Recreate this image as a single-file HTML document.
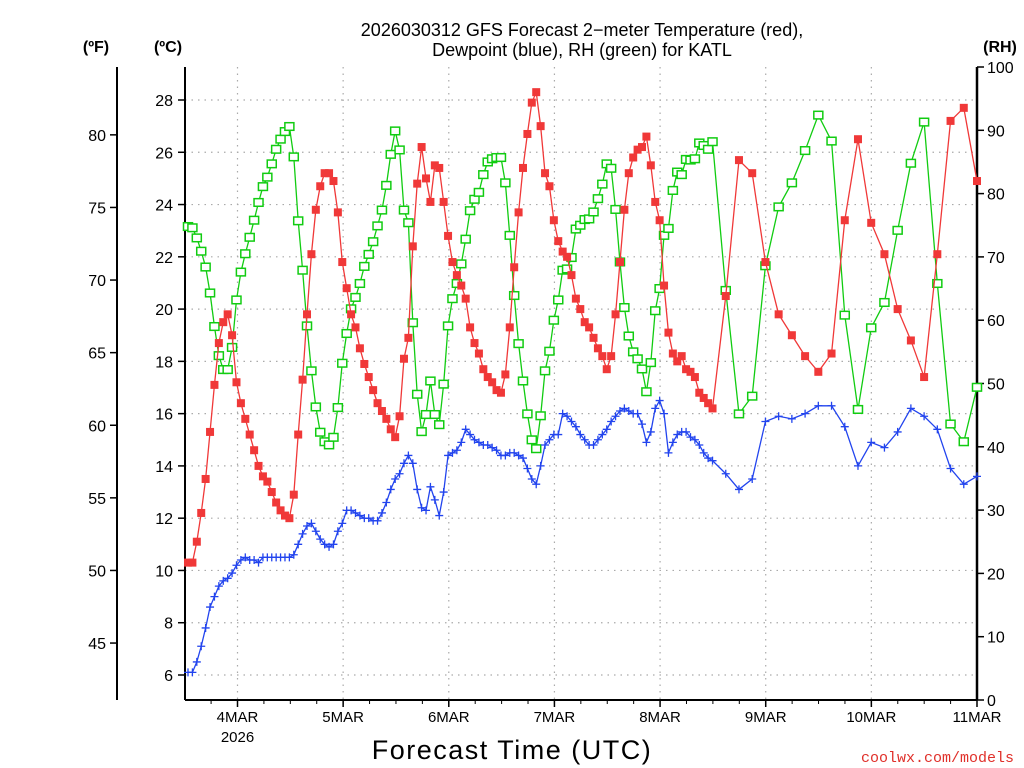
<!DOCTYPE html>
<html><head><meta charset="utf-8"><style>
html,body{margin:0;padding:0;background:#fff;}
svg{display:block;font-family:"Liberation Sans",sans-serif;}
</style></head><body>
<svg id="chart" width="1024" height="768" viewBox="0 0 1024 768" xmlns="http://www.w3.org/2000/svg">
<text x="582" y="36" text-anchor="middle" font-size="18" fill="#000">2026030312 GFS Forecast 2−meter Temperature (red),</text>
<text x="582" y="56" text-anchor="middle" font-size="18" fill="#000">Dewpoint (blue), RH (green) for KATL</text>
<text x="96" y="52" text-anchor="middle" font-size="16" font-weight="bold">(ºF)</text>
<text x="168" y="52" text-anchor="middle" font-size="16" font-weight="bold">(ºC)</text>
<text x="1000" y="52" text-anchor="middle" font-size="16" font-weight="bold">(RH)</text>
<text x="512" y="759" text-anchor="middle" font-size="27" letter-spacing="1.5">Forecast Time (UTC)</text>
<text x="1014" y="762" text-anchor="end" font-size="15" fill="#e0302a" font-family="Liberation Mono, monospace">coolwx.com/models</text>
<g id="grid"></g><g id="axes"></g><g id="series"></g>
</svg>
<script>
const hourlyT=[10.3,10.3,11.1,12.2,13.5,15.3,17.1,18.7,19.5,19.8,19.0,17.2,16.4,15.8,15.2,14.6,14.0,13.6,13.4,13.0,12.6,12.3,12.1,12.0,12.9,15.2,17.3,19.8,22.1,23.8,24.7,25.2,25.2,24.9,23.7,21.8,20.8,19.8,19.3,18.5,17.9,17.4,16.9,16.4,16.1,15.8,15.4,15.1,15.9,18.1,18.9,22.4,24.8,26.2,25.0,24.1,25.5,25.4,24.1,22.8,21.8,21.3,20.9,20.4,19.3,18.7,18.3,17.7,17.4,17.2,16.9,16.8,17.5,19.3,21.6,23.7,25.4,26.7,27.9,28.3,27.0,25.2,24.7,23.4,22.6,22.2,22.0,21.3,20.4,20.0,19.5,19.3,18.9,18.5,18.2,17.7,18.2,19.8,21.8,23.8,25.2,25.8,26.1,26.2,26.6,25.5,24.1,23.4,20.9,19.1,18.3,18.0,18.2,17.7,17.6,17.4,16.8,16.6,16.4,16.2];
const threeHourlyT=[20.5,25.7,25.2,21.8,19.8,19.0,18.2,17.6,18.3,23.4,26.5,23.3,22.1,20.0,18.8,17.4,22.1,27.2,27.7,24.9];
const hourlyTd=[6.1,6.1,6.5,7.1,7.8,8.6,9.0,9.4,9.6,9.7,9.9,10.2,10.4,10.5,10.4,10.4,10.3,10.5,10.5,10.5,10.5,10.5,10.5,10.5,10.6,11.0,11.4,11.7,11.8,11.5,11.2,11.0,10.9,11.0,11.5,11.8,12.3,12.3,12.2,12.1,12.0,12.0,11.9,11.9,12.2,12.6,13.1,13.5,13.7,14.1,14.4,14.1,13.1,12.4,12.3,13.2,12.7,12.1,13.0,14.4,14.5,14.6,14.9,15.4,15.2,15.0,14.9,14.8,14.8,14.7,14.6,14.4,14.4,14.5,14.5,14.4,14.3,13.9,13.5,13.3,14.0,14.8,15.0,15.2,15.2,16.0,15.9,15.7,15.5,15.2,15.0,14.8,14.8,15.0,15.2,15.4,15.7,15.9,16.1,16.2,16.1,16.0,16.0,15.6,14.9,15.3,16.2,16.5,16.0,14.5,14.9,15.2,15.3,15.3,15.1,15.0,14.8,14.5,14.3,14.2];
const threeHourlyTd=[13.7,13.1,13.5,15.7,15.9,15.8,16.0,16.3,16.3,15.5,14.0,14.9,14.7,15.3,16.2,15.9,15.4,13.9,13.3,13.6];
const hourlyRH=[74.8,74.6,73.0,70.9,68.4,64.3,59.0,54.4,52.2,52.2,55.7,63.2,67.6,70.5,73.1,75.8,78.6,81.1,82.6,84.7,87.0,88.6,89.8,90.6,85.8,75.7,67.9,59.1,52.0,46.3,42.3,40.8,40.3,41.5,46.2,53.2,57.9,61.8,63.6,65.8,68.5,70.4,72.4,74.9,77.4,81.3,86.2,89.9,86.9,77.4,75.4,59.6,48.3,42.4,45.1,50.4,45.1,43.5,49.9,59.1,63.4,65.8,68.9,72.8,77.3,79.1,80.2,83.0,85.0,85.5,85.7,85.7,81.7,73.4,63.9,56.3,50.4,45.2,41.1,39.7,44.9,52.0,55.1,60.0,63.2,67.9,68.1,69.9,74.4,75.0,75.9,76.0,77.1,79.2,81.5,84.7,84.0,77.5,69.2,62.0,57.5,55.0,53.9,52.3,48.7,53.3,61.5,65.0,73.4,74.5,80.5,83.4,83.0,85.4,85.3,85.5,88.0,87.6,87.0,88.2];
const threeHourlyRH=[64.7,45.2,48.0,68.6,77.9,81.7,86.8,92.4,88.3,60.8,45.9,58.8,62.8,74.2,84.8,91.3,65.8,43.6,40.8,49.4];
const dayLabels=["4MAR","5MAR","6MAR","7MAR","8MAR","9MAR","10MAR","11MAR"];
const cTicks=[6,8,10,12,14,16,18,20,22,24,26,28];
const fTicks=[45,50,55,60,65,70,75,80];
const rhTicks=[0,10,20,30,40,50,60,70,80,90,100];

const NS="http://www.w3.org/2000/svg";
const L=185,R=977,T=67,B=700;
const X0=188,PPH=(977-188)/179;
const xH=h=>X0+h*PPH;
const xDay=d=>237.5+d*(977-237.5)/7;
const yC=c=>675-(c-6)*(575/22);
const yF=f=>yC((f-32)*5/9);
const yRH=r=>B-r*(B-T)/100;
function mk(tag,attrs,parent,txt){const e=document.createElementNS(NS,tag);for(const k in attrs)e.setAttribute(k,attrs[k]);if(txt!==undefined)e.textContent=txt;parent.appendChild(e);return e;}
const grid=document.getElementById('grid'),axes=document.getElementById('axes'),ser=document.getElementById('series');
cTicks.forEach(c=>{const g=mk('line',{x1:L,x2:R,y1:yC(c),y2:yC(c),stroke:'#aaa','stroke-width':1.2,'stroke-dasharray':'1.5,5'},grid);

});
dayLabels.forEach((d,i)=>{if(i<7){const g=mk('line',{x1:xDay(i),x2:xDay(i),y1:T,y2:B,stroke:'#aaa','stroke-width':1.2,'stroke-dasharray':'1.5,5'},grid);

}});
[[L,T,L,B,2],[R,T,R,B,2.5],[L,B,R,B,2],[117,67,117,700,2]].forEach(a=>{const e=mk('line',{x1:a[0],y1:a[1],x2:a[2],y2:a[3],stroke:'#000','stroke-width':a[4]},axes);

});
cTicks.forEach(c=>{mk('line',{x1:L-7,x2:L,y1:yC(c),y2:yC(c),stroke:'#000','stroke-width':1.5},axes);
const t=mk('text',{x:L-12,y:yC(c)+6,'text-anchor':'end','font-size':16},axes,String(c));

});
fTicks.forEach(f=>{mk('line',{x1:110,x2:117,y1:yF(f),y2:yF(f),stroke:'#000','stroke-width':1.5},axes);
const t=mk('text',{x:106,y:yF(f)+6,'text-anchor':'end','font-size':16},axes,String(f));

});
rhTicks.forEach(r=>{mk('line',{x1:R,x2:R+7,y1:yRH(r),y2:yRH(r),stroke:'#000','stroke-width':1.5},axes);
const t=mk('text',{x:987,y:yRH(r)+6,'text-anchor':'start','font-size':16},axes,String(r));

});
dayLabels.forEach((d,i)=>{const x=xDay(i);mk('line',{x1:x,x2:x,y1:B,y2:B+7,stroke:'#000','stroke-width':1.5},axes);
const t=mk('text',{x:x,y:722,'text-anchor':'middle','font-size':15},axes,d);

});
for(let k=-2;k<=28;k++){const x=237.5+k*(977-237.5)/28;if(x>L&&x<R)mk('line',{x1:x,x2:x,y1:B,y2:B+4,stroke:'#000','stroke-width':1},axes);}
const yr=mk('text',{x:xDay(0),y:742,'text-anchor':'middle','font-size':15},axes,'2026');


function hoursFor(n3){const hs=[];for(let i=0;i<120;i++)hs.push(i);for(let k=0;k<n3;k++)hs.push(122+3*k);return hs;}
function draw(vals,yf,color,marker,name){
 const hs=hoursFor(vals.length-120);
 const pts=vals.map((v,i)=>[xH(hs[i]),yf(v)]);
 const g=mk('g',{},ser);
 
 
 const pl=mk('polyline',{points:pts.map(p=>p.join(',')).join(' '),fill:'none',stroke:color,'stroke-width':1.3},g);
 
 
 pts.forEach(p=>{let m;
  if(marker==='fill'){m=mk('rect',{x:p[0]-4,y:p[1]-4,width:8,height:8,fill:color},g);}
  else if(marker==='hollow'){m=mk('rect',{x:p[0]-4.5,y:p[1]-3.8,width:9,height:7.6,fill:'#fff',stroke:color,'stroke-width':1.5},g);}
  else{m=mk('path',{d:`M${p[0]-4},${p[1]}h8M${p[0]},${p[1]-4}v8`,stroke:color,'stroke-width':1.3},g);}
  
  
 });
}
draw(hourlyRH.concat(threeHourlyRH),yRH,'#11cc11','hollow','rh-series');
draw(hourlyTd.concat(threeHourlyTd),yC,'#2244ee','plus','dewpoint-series');
draw(hourlyT.concat(threeHourlyT),yC,'#f03838','fill','temperature-series');
</script>
</body></html>
